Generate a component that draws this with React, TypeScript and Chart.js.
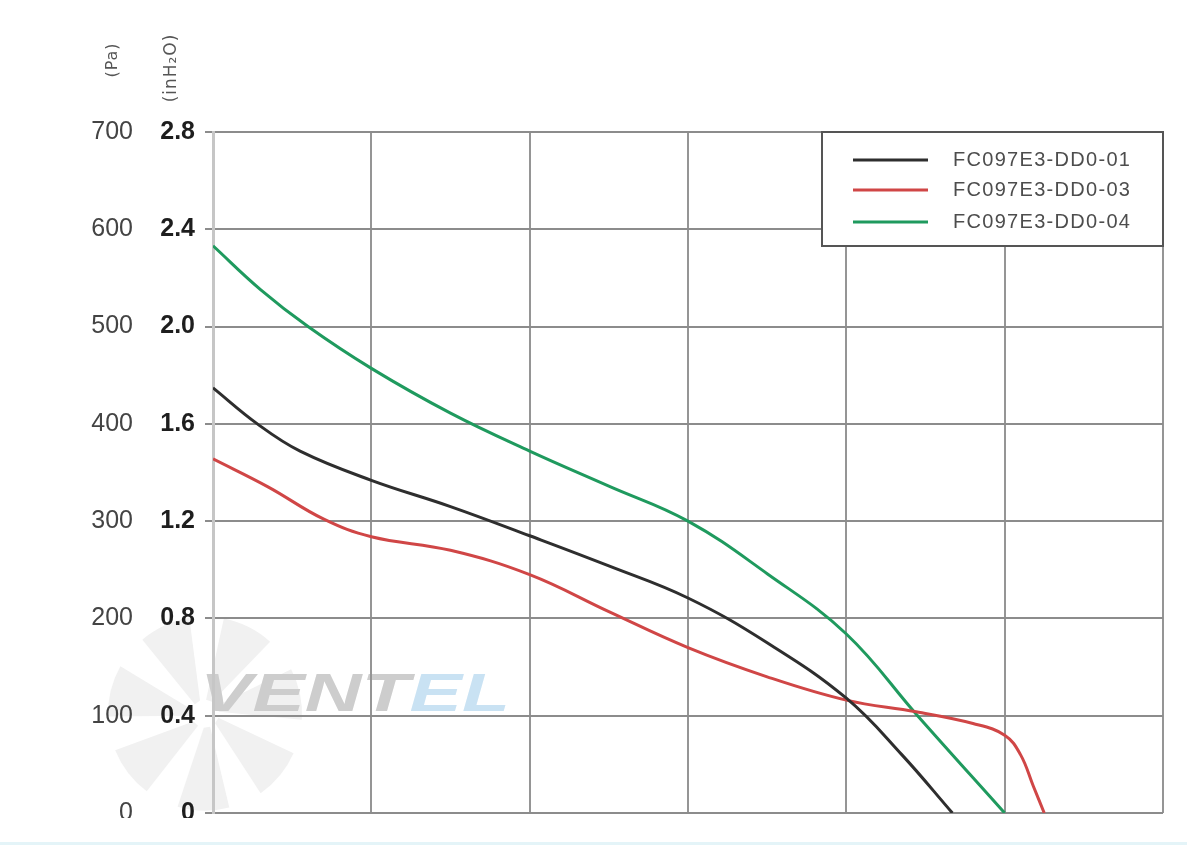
import React, { useEffect, useRef } from "react";
import { Chart, registerables } from "chart.js";

Chart.register(...registerables);

// ---- data ----
const seriesLabels = ["FC097E3-DD0-01", "FC097E3-DD0-03", "FC097E3-DD0-04"];
const seriesColors = ["#2e2e2e", "#d04646", "#1f9a5e"];

const flow01 = [0, 0.28, 0.55, 1, 1.5, 2, 2.5, 3, 3.5, 4, 4.35, 4.67];
const pa01 = [437, 400, 372, 342, 315, 285, 254, 221, 175, 118, 60, 0];

const flow03 = [0, 0.35, 0.7, 1, 1.5, 2, 2.5, 3, 3.5, 4, 4.44, 4.8, 5, 5.1, 5.18, 5.25];
const pa03 = [364, 335, 302, 284, 270, 245, 207, 170, 140, 116, 104, 92, 80, 60, 28, 0];

const flow04 = [0, 0.3, 0.6, 1, 1.5, 2, 2.5, 3, 3.5, 4, 4.45, 5];
const pa04 = [583, 538, 500, 457, 411, 372, 336, 300, 246, 184, 100, 0];

const paTicks = [0, 100, 200, 300, 400, 500, 600, 700];
const inh2oTicks = ["0", "0.4", "0.8", "1.2", "1.6", "2.0", "2.4", "2.8"];
const paTitle = "(Pa)";
const inh2oTitle = "(inH\u2082O)";
const watermarkGray = "VENT";
const watermarkBlue = "EL";

const toPoints = (xs: number[], ys: number[]) => xs.map((x, i) => ({ x, y: ys[i] }));

const decorPlugin = {
  id: "decor",
  beforeDraw(chart: any) {
    const ctx = chart.ctx;
    ctx.save();
    ctx.fillStyle = "#ffffff";
    ctx.fillRect(0, 0, chart.width, chart.height);
    // watermark fan
    const yScale = chart.scales.y;
    const cx = chart.chartArea.left - 8;
    const cy = yScale.getPixelForValue(100) - 2;
    ctx.fillStyle = "#f1f1f1";
    const blades = 7;
    for (let i = 0; i < blades; i++) {
      const a0 = (i * 2 * Math.PI) / blades + 0.3;
      const a1 = a0 + 0.66;
      ctx.beginPath();
      ctx.moveTo(cx + 14 * Math.cos(a0), cy + 14 * Math.sin(a0));
      ctx.arc(cx, cy, 97, a0 + 0.12, a1);
      ctx.lineTo(cx + 14 * Math.cos(a1 - 0.2), cy + 14 * Math.sin(a1 - 0.2));
      ctx.closePath();
      ctx.fill();
    }
    // watermark text
    ctx.font = "italic bold 54px 'Liberation Sans'";
    ctx.textBaseline = "alphabetic";
    ctx.textAlign = "left";
    const w1 = ctx.measureText(watermarkGray).width;
    const w2 = ctx.measureText(watermarkBlue).width;
    const target = 310;
    const sx = target / (w1 + w2);
    ctx.translate(chart.chartArea.left - 13, yScale.getPixelForValue(100) - 5);
    ctx.scale(sx, 1);
    ctx.fillStyle = "#cdcdcd";
    ctx.fillText(watermarkGray, 0, 0);
    ctx.fillStyle = "#c9e2f3";
    ctx.fillText(watermarkBlue, w1, 0);
    ctx.restore();
  },
  afterDraw(chart: any) {
    const ctx = chart.ctx;
    const area = chart.chartArea;
    ctx.save();
    // legend box
    const bw = 341, bh = 114;
    const bx = area.right - bw;
    const by = area.top;
    ctx.fillStyle = "#ffffff";
    ctx.fillRect(bx, by, bw, bh);
    ctx.strokeStyle = "#555555";
    ctx.lineWidth = 2;
    ctx.strokeRect(bx, by, bw, bh);
    const rows = [28, 58, 90];
    chart.data.datasets.forEach((ds: any, i: number) => {
      const yy = by + rows[i];
      ctx.strokeStyle = ds.borderColor;
      ctx.lineWidth = 3;
      ctx.beginPath();
      ctx.moveTo(bx + 31, yy);
      ctx.lineTo(bx + 106, yy);
      ctx.stroke();
      ctx.fillStyle = "#4d4d4d";
      ctx.font = "20px 'Liberation Sans'";
      ctx.textBaseline = "middle";
      ctx.textAlign = "left";
      (ctx as any).letterSpacing = "1.3px";
      ctx.fillText(ds.label, bx + 131, yy);
      (ctx as any).letterSpacing = "0px";
    });
    // axis titles (rotated)
    const drawRot = (text: string, x: number, y: number, size: number) => {
      ctx.save();
      ctx.translate(x, y);
      ctx.rotate(-Math.PI / 2);
      ctx.font = `${size}px 'DejaVu Sans'`;
      ctx.fillStyle = "#555555";
      ctx.textAlign = "center";
      ctx.textBaseline = "middle";
      (ctx as any).letterSpacing = "1px";
      ctx.fillText(text, 0, 0);
      ctx.restore();
    };
    drawRot(paTitle, chart.scales.y.right - 27, area.top - 72, 16);
    drawRot(inh2oTitle, chart.scales.y2.right - 41, area.top - 64, 17);
    // cropped bottom
    ctx.fillStyle = "#ffffff";
    ctx.fillRect(0, area.bottom + 5, chart.width, chart.height - area.bottom - 5);
    ctx.fillStyle = "#e4f4f8";
    ctx.fillRect(0, chart.height - 3, chart.width, 3);
    ctx.restore();
  },
};

export default function App() {
  const canvasRef = useRef<HTMLCanvasElement | null>(null);

  useEffect(() => {
    if (!canvasRef.current) return;
    const lineOpts = {
      fill: false,
      pointRadius: 0,
      borderWidth: 3,
      tension: 0.4,
    };
    const chart = new Chart(canvasRef.current, {
      type: "line",
      data: {
        datasets: [
          { label: seriesLabels[0], data: toPoints(flow01, pa01), borderColor: seriesColors[0], backgroundColor: seriesColors[0], ...lineOpts },
          { label: seriesLabels[1], data: toPoints(flow03, pa03), borderColor: seriesColors[1], backgroundColor: seriesColors[1], ...lineOpts },
          { label: seriesLabels[2], data: toPoints(flow04, pa04), borderColor: seriesColors[2], backgroundColor: seriesColors[2], ...lineOpts },
        ],
      },
      options: {
        animation: false,
        responsive: false,
        maintainAspectRatio: false,
        layout: { padding: { left: 70, right: 24, top: 132, bottom: 32 } },
        plugins: { legend: { display: false }, tooltip: { enabled: false } },
        scales: {
          x: {
            type: "linear",
            min: 0,
            max: 6,
            ticks: { display: false, stepSize: 1 },
            grid: {
              drawTicks: false,
              lineWidth: 2,
              color: (c: any) => (c.tick && c.tick.value === 0 ? "#c6c6c6" : "#959595"),
            },
            border: { display: false },
            afterFit: (s: any) => { s.height = 0; },
          },
          y: {
            type: "linear",
            position: "left",
            weight: 2,
            min: 0,
            max: 700,
            afterBuildTicks: (s: any) => { s.ticks = paTicks.map((v) => ({ value: v })); },
            ticks: {
              padding: 7,
              color: "#444444",
              font: { family: "'Liberation Sans'", size: 25 },
              callback: (v: any) => String(v),
            },
            grid: { display: false, drawTicks: false },
            border: { display: false },
            afterFit: (s: any) => { s.width = 70; },
          },
          y2: {
            type: "linear",
            position: "left",
            weight: 1,
            min: 0,
            max: 700,
            afterBuildTicks: (s: any) => { s.ticks = paTicks.map((v) => ({ value: v })); },
            ticks: {
              padding: 10,
              color: "#1e1e1e",
              font: { family: "'Liberation Sans'", size: 25, weight: "bold" },
              callback: (_v: any, i: number) => inh2oTicks[i],
            },
            grid: { color: "#8c8c8c", lineWidth: 2, tickLength: 8 },
            border: { display: true, color: "#c6c6c6", width: 3 },
            afterFit: (s: any) => { s.width = 73; },
          },
        },
      },
      plugins: [decorPlugin],
    });
    return () => chart.destroy();
  }, []);

  return (
    <div style={{ position: "absolute", left: 0, top: 0, width: 1187, height: 845 }}>
      <canvas ref={canvasRef} width={1187} height={845} style={{ display: "block" }} />
    </div>
  );
}
